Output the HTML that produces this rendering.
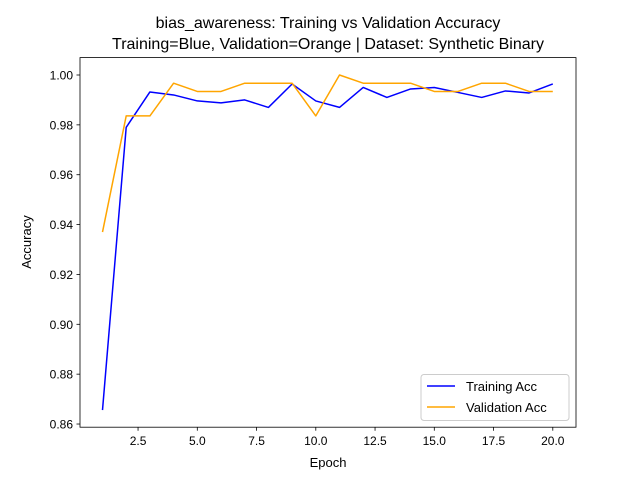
<!DOCTYPE html>
<html><head><meta charset="utf-8"><style>
body{margin:0;background:#fff}
text{font-family:"Liberation Sans","DejaVu Sans",sans-serif;fill:#000}
</style></head><body>
<svg id="chart" width="640" height="480" viewBox="0 0 640 480" xmlns="http://www.w3.org/2000/svg">
<rect width="640" height="480" fill="#fff"/>
<text x="328" y="28" font-size="16" text-anchor="middle">bias_awareness: Training vs Validation Accuracy</text>
<text x="328" y="49" font-size="16" text-anchor="middle">Training=Blue, Validation=Orange | Dataset: Synthetic Binary</text>
<g id="ticks"></g>
<g id="lines"></g>
<rect x="80" y="57.6" width="496" height="369.6" fill="none" stroke="#000" stroke-width="0.8"/>
<text x="328" y="467" font-size="13" text-anchor="middle">Epoch</text>
<text x="31" y="242" font-size="13" text-anchor="middle" transform="rotate(-90 31 242)">Accuracy</text>
<g>
<rect x="421" y="374.5" width="148" height="46" rx="3" fill="#fff" fill-opacity="0.8" stroke="#ccc"/>
<line x1="427" y1="386" x2="455" y2="386" stroke="#0000ff" stroke-width="1.5"/>
<text x="466" y="391" font-size="13">Training Acc</text>
<line x1="427" y1="407" x2="455" y2="407" stroke="#ffa500" stroke-width="1.5"/>
<text x="466" y="412" font-size="13">Validation Acc</text>
</g>
</svg>
<script>
const epochs=[1,2,3,4,5,6,7,8,9,10,11,12,13,14,15,16,17,18,19,20];
const trainAcc=[0.8656,0.979,0.9932,0.992,0.9896,0.9888,0.990,0.987,0.9964,0.9896,0.987,0.995,0.991,0.9944,0.995,0.993,0.991,0.9936,0.9928,0.9964];
const valAcc=[0.937,0.9836,0.9836,0.9967,0.9934,0.9934,0.9967,0.9967,0.9967,0.9836,1.0,0.9967,0.9967,0.9967,0.9934,0.9934,0.9967,0.9967,0.9934,0.9934];
const xTicks=[2.5,5.0,7.5,10.0,12.5,15.0,17.5,20.0];
const yTicks=[0.86,0.88,0.90,0.92,0.94,0.96,0.98,1.00];
const NS="http://www.w3.org/2000/svg";
const xs=v=>102.5+(v-1)*23.7;
const ys=v=>75+(1.0-v)*2493;
const tg=document.getElementById('ticks');
function mk(tag,attrs,parent){const e=document.createElementNS(NS,tag);for(const k in attrs)e.setAttribute(k,attrs[k]);parent.appendChild(e);return e;}
xTicks.forEach(t=>{const x=xs(t);
const l=mk('line',{x1:x,x2:x,y1:427.2,y2:430.7,stroke:'#000','stroke-width':0.8},tg);


const tx=mk('text',{x:x,y:445,'font-size':12,'text-anchor':'middle'},tg);tx.textContent=t.toFixed(1);

});
yTicks.forEach(t=>{const y=ys(t);
const l=mk('line',{x1:76.5,x2:80,y1:y,y2:y,stroke:'#000','stroke-width':0.8},tg);


const tx=mk('text',{x:73,y:y+4.5,'font-size':12,'text-anchor':'end'},tg);tx.textContent=t.toFixed(2);

});
const lg=document.getElementById('lines');
function line(vals,color,name){const p=mk('polyline',{points:epochs.map((e,i)=>xs(e)+','+ys(vals[i])).join(' '),fill:'none',stroke:color,'stroke-width':1.5,'stroke-linejoin':'round'},lg);

}
line(trainAcc,'#0000ff','training-acc-line');
line(valAcc,'#ffa500','validation-acc-line');
</script>
</body></html>
